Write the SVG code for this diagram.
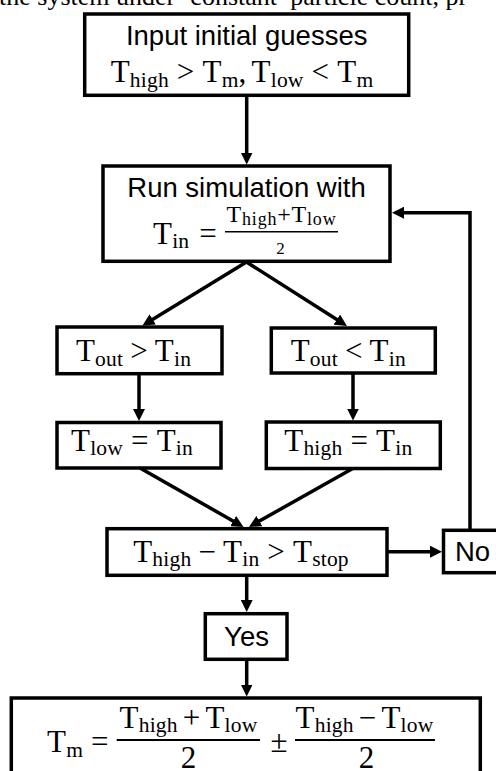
<svg xmlns="http://www.w3.org/2000/svg" width="496" height="771" viewBox="0 0 496 771">
<style>
.box{fill:#fff;stroke:#000;stroke-width:3.5}
.c{stroke:#000;stroke-width:3.5;fill:none;marker-end:url(#ah)}
.sans{font-family:"Liberation Sans",Arial,sans-serif;font-size:27.5px;fill:#000}
.m{font-family:"Liberation Serif","Times New Roman",serif;font-size:31px;letter-spacing:0.2px;fill:#000}
.s{font-size:21.5px}
.bar{stroke:#000;stroke-width:2}
</style>
<defs>
<marker id="ah" markerUnits="userSpaceOnUse" markerWidth="12" markerHeight="12" viewBox="0 0 12 12" refX="6" refY="6" orient="auto">
<path d="M0,0 L12,6 L0,12 Z" fill="#000"/>
</marker>
</defs>
<rect width="496" height="771" fill="#fff"/>
<text x="-1" y="5" font-family="Liberation Serif, Times New Roman, serif" font-size="26">the system under ‘constant’ particle count, pr</text>

<g id="n-input">
<rect class="box" x="84.7" y="14" width="324" height="81.3"/>
<text class="sans" x="246.7" y="45" text-anchor="middle">Input initial guesses</text>
<text class="m" x="242" y="82" text-anchor="middle">T<tspan class="s" dy="5">high</tspan><tspan dy="-5" dx="8">&gt;</tspan><tspan dx="8">T</tspan><tspan class="s" dy="5">m</tspan><tspan dy="-5">,</tspan><tspan dx="5">T</tspan><tspan class="s" dy="5">low</tspan><tspan dy="-5" dx="8">&lt;</tspan><tspan dx="8">T</tspan><tspan class="s" dy="5">m</tspan></text>
</g>

<g id="n-run">
<rect class="box" x="103" y="166" width="287" height="95.3"/>
<text class="sans" x="246.5" y="196.5" text-anchor="middle">Run simulation with</text>
<text class="m" x="153" y="244">T<tspan class="s" dy="4">in</tspan><tspan dy="-4" dx="10">=</tspan></text>
<line class="bar" x1="225" y1="231.7" x2="338" y2="231.7" style="stroke-width:1.6"/>
<text class="m" x="281.5" y="222" text-anchor="middle" style="font-size:24px;letter-spacing:0.8px">T<tspan dy="3" style="font-size:18px">high</tspan><tspan dy="-3">+T</tspan><tspan dy="3" style="font-size:18px">low</tspan></text>
<text class="m" x="280.5" y="254" text-anchor="middle" style="font-size:17px">2</text>
</g>

<g id="n-gt">
<rect class="box" x="57" y="327" width="165" height="46.7"/>
<text class="m" x="133.5" y="361" text-anchor="middle">T<tspan class="s" dy="4.5">out</tspan><tspan dy="-4.5" dx="7">&gt;</tspan><tspan dx="7">T</tspan><tspan class="s" dy="4.5">in</tspan></text>
</g>

<g id="n-lt">
<rect class="box" x="271.3" y="328" width="164" height="45"/>
<text class="m" x="348.3" y="361" text-anchor="middle">T<tspan class="s" dy="4.5">out</tspan><tspan dy="-4.5" dx="7">&lt;</tspan><tspan dx="7">T</tspan><tspan class="s" dy="4.5">in</tspan></text>
</g>

<g id="n-low">
<rect class="box" x="57" y="422.5" width="164" height="45.5"/>
<text class="m" x="132" y="450.5" text-anchor="middle">T<tspan class="s" dy="4.5">low</tspan><tspan dy="-4.5" dx="8">=</tspan><tspan dx="8">T</tspan><tspan class="s" dy="4.5">in</tspan></text>
</g>

<g id="n-high">
<rect class="box" x="266.3" y="422" width="174" height="46.5"/>
<text class="m" x="348.3" y="450.5" text-anchor="middle">T<tspan class="s" dy="4.5">high</tspan><tspan dy="-4.5" dx="8">=</tspan><tspan dx="8">T</tspan><tspan class="s" dy="4.5">in</tspan></text>
</g>

<g id="n-check">
<rect class="box" x="107" y="528.7" width="280" height="46.6"/>
<text class="m" x="241" y="561.5" text-anchor="middle">T<tspan class="s" dy="4.5">high</tspan><tspan dy="-4.5" dx="7">−</tspan><tspan dx="7">T</tspan><tspan class="s" dy="4.5">in</tspan><tspan dy="-4.5" dx="8">&gt;</tspan><tspan dx="8">T</tspan><tspan class="s" dy="4.5">stop</tspan></text>
</g>

<g id="n-no">
<rect class="box" x="443.5" y="530.3" width="70" height="42.4"/>
<text class="sans" x="455" y="561">No</text>
</g>

<g id="n-yes">
<rect class="box" x="205.3" y="613.7" width="81.7" height="45.6"/>
<text class="sans" x="246.5" y="645.5" text-anchor="middle">Yes</text>
</g>

<g id="n-result">
<rect class="box" x="11.3" y="698" width="469" height="100"/>
<text class="m" x="47" y="752">T<tspan class="s" dy="4.5">m</tspan><tspan dy="-4.5" dx="8">=</tspan></text>
<line class="bar" x1="116.7" y1="740" x2="260" y2="740"/>
<text class="m" x="188.5" y="727.5" text-anchor="middle">T<tspan class="s" dy="4">high</tspan><tspan dy="-4" dx="5">+</tspan><tspan dx="5">T</tspan><tspan class="s" dy="4">low</tspan></text>
<text class="m" x="188.5" y="767.5" text-anchor="middle">2</text>
<text class="m" x="279" y="752" text-anchor="middle">±</text>
<line class="bar" x1="295" y1="740" x2="435" y2="740"/>
<text class="m" x="364.5" y="727.5" text-anchor="middle">T<tspan class="s" dy="4">high</tspan><tspan dy="-4" dx="5">−</tspan><tspan dx="5">T</tspan><tspan class="s" dy="4">low</tspan></text>
<text class="m" x="366.5" y="767.5" text-anchor="middle">2</text>
</g>

<g id="connectors">
<path class="c" d="M246.7,96 V158.5"/>
<path class="c" d="M246.5,262 L147.6,322.4"/>
<path class="c" d="M246.5,262 L341.9,322.8"/>
<path class="c" d="M139,373.7 V415"/>
<path class="c" d="M353,373 V414.5"/>
<path class="c" d="M140,468 L238.3,524"/>
<path class="c" d="M352.7,468.5 L254.2,524"/>
<path class="c" d="M387,551.7 H436"/>
<path class="c" d="M470,530.3 V212.7 H398"/>
<path class="c" d="M246.7,575.3 V606"/>
<path class="c" d="M246.7,659.3 V690.5"/>
</g>
</svg>
